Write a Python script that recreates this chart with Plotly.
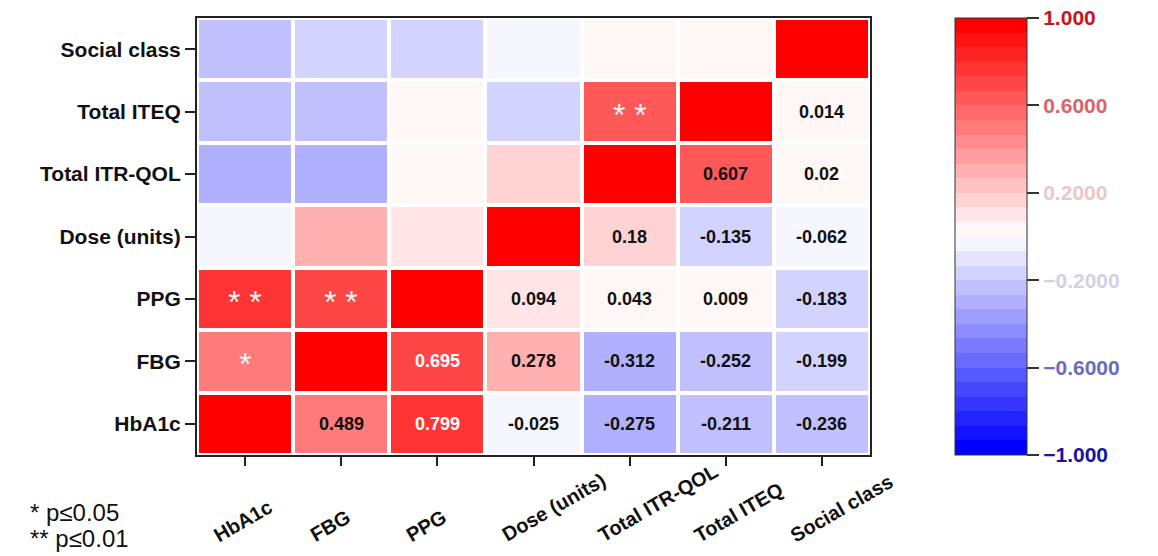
import plotly.graph_objects as go

# ---- data ----
variables = ["HbA1c", "FBG", "PPG", "Dose (units)", "Total ITR-QOL", "Total ITEQ", "Social class"]

# correlation matrix (rows/cols in the order of `variables`)
corr = [
    [1.0,    0.489,  0.799,  -0.025, -0.275, -0.211, -0.236],
    [0.489,  1.0,    0.695,  0.278,  -0.312, -0.252, -0.199],
    [0.799,  0.695,  1.0,    0.094,  0.043,  0.009,  -0.183],
    [-0.025, 0.278,  0.094,  1.0,    0.18,   -0.135, -0.062],
    [-0.275, -0.312, 0.043,  0.18,   1.0,    0.607,  0.02],
    [-0.211, -0.252, 0.009,  -0.135, 0.607,  1.0,    0.014],
    [-0.236, -0.199, -0.183, -0.062, 0.02,   0.014,  1.0],
]

# significance markers (lower-left half, keyed by (row var, col var))
significance = {
    ("FBG", "HbA1c"): "*",
    ("PPG", "HbA1c"): "* *",
    ("PPG", "FBG"): "* *",
    ("Total ITEQ", "Total ITR-QOL"): "* *",
}

cbar_tickvals = [1.0, 0.6, 0.2, -0.2, -0.6, -1.0]
cbar_ticktext = ["1.000", "0.6000", "0.2000", "\u22120.2000", "\u22120.6000", "\u22121.000"]
cbar_tickcolors = ["#c8141e", "#d9646c", "#ecc6c8", "#d2d2e6", "#6c6cbc", "#1616a0"]

footnotes = ["* p\u22640.05", "** p\u22640.01"]

# ---- discrete blue-white-red colour scale ----
N = 30
def col_at(v):
    if v >= 0:
        return (255, round(255 * (1 - v)), round(255 * (1 - v)))
    return (round(255 * (1 + v)), round(255 * (1 + v)), 255)

colorscale = []
for i in range(N):
    v = -1 + 2 * i / (N - 1)
    r, g, b = col_at(v)
    c = f"rgb({r},{g},{b})"
    colorscale.append([i / N, c])
    colorscale.append([(i + 1) / N, c])

FONT = "Arial, 'Liberation Sans', sans-serif"

W, H = 1158, 556
L, R, T, B = 197, 288, 18, 101
pw = W - L - R
ph = H - T - B
n = len(variables)

fig = go.Figure()
fig.add_trace(go.Heatmap(
    z=corr, x=variables, y=variables,
    zmin=-1, zmax=1, colorscale=colorscale,
    xgap=4, ygap=4, hoverinfo="skip",
    colorbar=dict(
        x=(955 - L) / pw, xanchor="left", xpad=0, y=0.5, yanchor="middle", ypad=0,
        len=1, lenmode="fraction", thickness=72,
        outlinewidth=1, outlinecolor="#333",
        ticks="outside", ticklen=12, tickwidth=2, tickcolor="#333",
        tickvals=cbar_tickvals,
        ticktext=[f"<span style='color:{c}'>{t}</span>" for t, c in zip(cbar_ticktext, cbar_tickcolors)],
        tickfont=dict(family=FONT, size=21, weight="bold"),
    ),
))

annotations = []
for i in range(n):
    for j in range(n):
        if j > i:
            v = corr[i][j]
            annotations.append(dict(
                x=variables[j], y=variables[i], xref="x", yref="y",
                text=str(v), showarrow=False,
                font=dict(family=FONT, size=18, weight="bold",
                          color="white" if v > 0.65 else "#111"),
            ))
        elif j < i:
            s = significance.get((variables[i], variables[j]))
            if s:
                annotations.append(dict(
                    x=variables[j], y=variables[i], xref="x", yref="y",
                    text=s, showarrow=False, yshift=-3,
                    font=dict(family=FONT, size=32, color="#f4f4f4"),
                ))

# rotated x tick labels, anchored at their start
for v in variables:
    annotations.append(dict(
        x=v, xref="x", y=-0.214, yref="paper",
        text=v, textangle=-30, xanchor="left", yanchor="bottom",
        xshift=-38, showarrow=False,
        font=dict(family=FONT, size=20, weight="bold", color="#111"),
    ))

fn_bottom = [528, 554]
for t, yb in zip(footnotes, fn_bottom):
    annotations.append(dict(
        x=(28 - L) / pw, xref="paper", y=(H - B - yb) / ph, yref="paper",
        text=t, showarrow=False, xanchor="left", yanchor="bottom",
        font=dict(family=FONT, size=24, color="#111"),
    ))

fig.update_layout(
    width=W, height=H,
    margin=dict(l=L, r=R, t=T, b=B),
    paper_bgcolor="white", plot_bgcolor="white",
    annotations=annotations,
    xaxis=dict(type="category", range=[-0.5, n - 0.5], autorange=False,
               showline=True, mirror=True, linecolor="#222", linewidth=2,
               ticks="outside", ticklen=9, tickwidth=2, tickcolor="#222",
               showticklabels=False, showgrid=False, zeroline=False),
    yaxis=dict(type="category", range=[-0.5, n - 0.5], autorange=False,
               showline=True, mirror=True, linecolor="#222", linewidth=2,
               ticks="outside", ticklen=10, tickwidth=2, tickcolor="#222",
               tickfont=dict(family=FONT, size=21, weight="bold", color="#111"),
               showgrid=False, zeroline=False),
)

fig.write_html("out.html", config={"displayModeBar": False},
               post_script="document.body.style.margin='0px';")
